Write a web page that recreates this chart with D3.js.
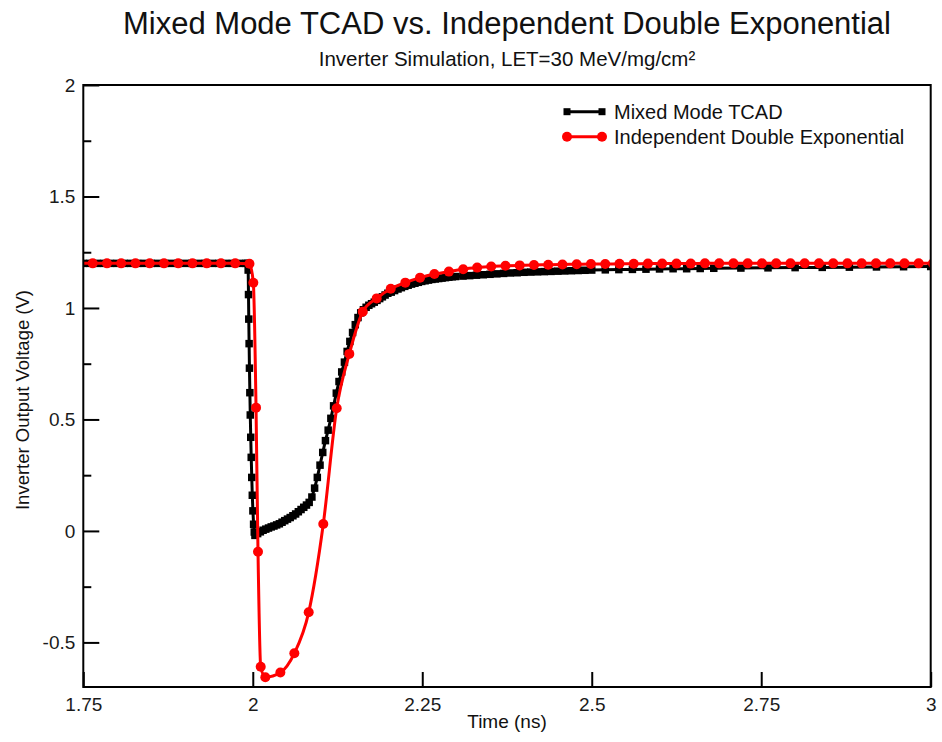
<!DOCTYPE html>
<html>
<head>
<meta charset="utf-8">
<script src="https://cdn.jsdelivr.net/npm/d3@7"></script>
<style>
  html, body { margin: 0; padding: 0; background: #fff; }
  svg { display: block; font-family: "Liberation Sans", Arial, Helvetica, sans-serif; }
</style>
</head>
<body>
<svg id="chart" width="942" height="742"></svg>
<script>
// Mixed-mode TCAD transient: [time (ns), output voltage (V)]
const tcadPoints = [
  [1.75,1.2],[1.76,1.2],[1.77,1.2],[1.78,1.2],[1.79,1.2],[1.80,1.2],[1.81,1.2],[1.82,1.2],
  [1.83,1.2],[1.84,1.2],[1.85,1.2],[1.86,1.2],[1.87,1.2],[1.88,1.2],[1.89,1.2],[1.90,1.2],
  [1.91,1.2],[1.92,1.2],[1.93,1.2],[1.94,1.2],[1.95,1.2],[1.96,1.2],[1.97,1.2],[1.98,1.2],
  [1.99,1.2],[1.992,1.2],
  [1.9932,1.17],[1.9937,1.06],[1.9941,0.95],[1.9946,0.84],[1.9951,0.73],[1.9957,0.62],
  [1.9963,0.52],[1.997,0.42],[1.9977,0.33],[1.9985,0.24],[1.9993,0.16],[2.0002,0.09],
  [2.0012,0.03],[2.0022,-0.005],[2.0032,-0.02],
  [2.0072,-0.012],[2.0112,-0.004],[2.0152,0.003],[2.0192,0.008],[2.0232,0.013],[2.0272,0.018],
  [2.0312,0.022],[2.0352,0.027],[2.0392,0.032],[2.0432,0.039],[2.0472,0.046],[2.0512,0.053],
  [2.0552,0.060],[2.0592,0.068],[2.0632,0.076],[2.0672,0.086],[2.0712,0.096],[2.0752,0.106],
  [2.0792,0.116],[2.0832,0.128],[2.0872,0.152],[2.0912,0.192],[2.0952,0.24],[2.0992,0.295],
  [2.1032,0.352],[2.1072,0.405],[2.1112,0.452],[2.1152,0.505],[2.1192,0.561],[2.1232,0.618],
  [2.1272,0.670],[2.1312,0.713],[2.1352,0.757],[2.1392,0.805],[2.1432,0.85],[2.1472,0.89],
  [2.1512,0.925],[2.1552,0.957],[2.1592,0.978],[2.1632,0.992],[2.1672,1.003],[2.1712,1.012],
  [2.1752,1.019],[2.1792,1.026],[2.1832,1.034],[2.1872,1.042],[2.1912,1.05],[2.1952,1.058],
  [2.1992,1.066],
  [2.2042,1.071],[2.2092,1.078],[2.2142,1.085],[2.2192,1.091],[2.2242,1.097],[2.2292,1.102],
  [2.2342,1.107],[2.2392,1.111],[2.2442,1.115],[2.2492,1.119],[2.2542,1.122],[2.2592,1.125],
  [2.2642,1.128],[2.2692,1.130],[2.2742,1.132],[2.2792,1.134],[2.2842,1.136],[2.2892,1.138],
  [2.2942,1.140],[2.2992,1.141],
  [2.31,1.143],[2.32,1.145],[2.33,1.147],[2.34,1.149],[2.35,1.151],[2.36,1.153],[2.37,1.155],
  [2.38,1.157],[2.39,1.158],[2.40,1.160],[2.41,1.161],[2.42,1.162],[2.43,1.163],[2.44,1.164],
  [2.45,1.165],[2.46,1.166],[2.47,1.167],[2.48,1.168],[2.49,1.169],[2.50,1.170],
  [2.52,1.171],[2.54,1.172],[2.56,1.173],[2.58,1.174],[2.60,1.175],[2.62,1.176],[2.64,1.176],
  [2.66,1.177],[2.68,1.178],
  [2.72,1.179],[2.76,1.180],[2.80,1.181],[2.84,1.182],[2.88,1.183],[2.92,1.184],[2.96,1.185],
  [3.00,1.186]
];

// Independent double-exponential current source model: [time (ns), output voltage (V)]
const dexpPoints = [
  [1.7429,1.2],[1.7639,1.2],[1.7849,1.2],[1.8059,1.2],[1.8270,1.2],[1.8480,1.2],[1.8690,1.2],
  [1.8900,1.2],[1.9110,1.2],[1.9321,1.2],[1.9531,1.2],[1.9741,1.2],[1.9951,1.198],
  [2.0008,1.113],[2.0048,0.553],[2.0077,-0.093],[2.0117,-0.609],[2.0185,-0.656],
  [2.0407,-0.635],[2.0613,-0.549],[2.0825,-0.365],[2.1040,0.031],[2.1238,0.550],
  [2.1424,0.794],[2.1622,0.983],[2.1828,1.043],[2.2035,1.086],[2.2250,1.1135],
  [2.2467,1.136],[2.2679,1.152],[2.2893,1.163],[2.3104,1.174],[2.3310,1.181],[2.3517,1.186],
  [2.3727,1.189],[2.3937,1.191],[2.4148,1.193],[2.4358,1.194],[2.4568,1.195],[2.4778,1.196],
  [2.4988,1.197],[2.5199,1.197],[2.5409,1.198],[2.5619,1.198],[2.5829,1.199],[2.6039,1.199],
  [2.6250,1.199],[2.6460,1.199],[2.6670,1.2],[2.6880,1.2],[2.7090,1.2],[2.7301,1.2],
  [2.7511,1.2],[2.7721,1.2],[2.7931,1.2],[2.8141,1.2],[2.8352,1.2],[2.8562,1.2],
  [2.8772,1.2],[2.8982,1.2],[2.9193,1.2],[2.9403,1.2],[2.9613,1.2],[2.9823,1.2],[3.0033,1.2]
];

const xMajorTicks = [1.75, 2, 2.25, 2.5, 2.75, 3];
const xTickLabels = ["1.75", "2", "2.25", "2.5", "2.75", "3"];
const yMajorTicks = [-0.5, 0, 0.5, 1, 1.5, 2];
const yTickLabels = ["-0.5", "0", "0.5", "1", "1.5", "2"];
const yMinorTicks = [-0.25, 0.25, 0.75, 1.25, 1.75];

const seriesNames = ["Mixed Mode TCAD", "Independent Double Exponential"];
const seriesColors = ["#000000", "#ff0000"];

const titleText = "Mixed Mode TCAD vs. Independent Double Exponential";
const subtitleText = "Inverter Simulation, LET=30 MeV/mg/cm\u00B2";
const xAxisTitle = "Time (ns)";
const yAxisTitle = "Inverter Output Voltage (V)";

// ---- layout ----
const svg = d3.select("#chart");
const plot = { left: 83.3, top: 85, right: 930.7, bottom: 687 };
const pw = plot.right - plot.left, ph = plot.bottom - plot.top;

const x = d3.scaleLinear().domain([1.75, 3]).range([0, pw]);
const y = d3.scaleLinear().domain([-0.7, 2]).range([ph, 0]);

const g = svg.append("g").attr("transform", `translate(${plot.left},${plot.top})`);

svg.append("defs").append("clipPath").attr("id", "plotClip")
  .append("rect").attr("x", 0).attr("y", 0).attr("width", pw).attr("height", ph);

// ---- axes (ticks point inward) ----
const fontStack = '"Liberation Sans", Arial, Helvetica, sans-serif';

const xAxis = d3.axisBottom(x).tickValues(xMajorTicks)
  .tickFormat((d, i) => xTickLabels[i]).tickSize(-15).tickPadding(11);
const xg = g.append("g").attr("transform", `translate(0,${ph})`).call(xAxis);

const yAxis = d3.axisLeft(y).tickValues(yMajorTicks)
  .tickFormat((d, i) => yTickLabels[i]).tickSize(-16).tickPadding(8);
const yg = g.append("g").call(yAxis);

const yMinor = d3.axisLeft(y).tickValues(yMinorTicks).tickFormat("").tickSize(-8);
const ymg = g.append("g").call(yMinor);

[xg, yg, ymg].forEach(a => {
  a.select(".domain").remove();
  a.selectAll(".tick line").attr("stroke", "#000").attr("stroke-width", 2);
  a.selectAll(".tick text").attr("fill", "#1a1a1a")
    .style("font-family", fontStack).style("font-size", "19px");
});

// ---- series ----
const tcadLine = d3.line().x(d => x(d[0])).y(d => y(d[1]));
const dexpLine = d3.line().x(d => x(d[0])).y(d => y(d[1])).curve(d3.curveMonotoneX);
const data = g.append("g").attr("clip-path", "url(#plotClip)");

// TCAD: black line with square markers
data.append("path").datum(tcadPoints)
  .attr("d", tcadLine).attr("fill", "none")
  .attr("stroke", seriesColors[0]).attr("stroke-width", 3).attr("stroke-linejoin", "round");
const sq = 7.5;
data.append("g").selectAll("rect").data(tcadPoints).join("rect")
  .attr("x", d => x(d[0]) - sq / 2).attr("y", d => y(d[1]) - sq / 2)
  .attr("width", sq).attr("height", sq).attr("fill", seriesColors[0]);

// Double exponential: red line with circle markers
data.append("path").datum(dexpPoints)
  .attr("d", dexpLine).attr("fill", "none")
  .attr("stroke", seriesColors[1]).attr("stroke-width", 3).attr("stroke-linejoin", "round");
data.append("g").selectAll("circle").data(dexpPoints).join("circle")
  .attr("cx", d => x(d[0])).attr("cy", d => y(d[1])).attr("r", 5)
  .attr("fill", seriesColors[1]);

// ---- frame ----
g.append("rect").attr("x", 0).attr("y", 0).attr("width", pw).attr("height", ph)
  .attr("fill", "none").attr("stroke", "#000").attr("stroke-width", 2);

// ---- titles ----
svg.append("text").attr("x", plot.left + pw / 2).attr("y", 34)
  .attr("text-anchor", "middle").attr("fill", "#111")
  .style("font-size", "31px").text(titleText);
svg.append("text").attr("x", plot.left + pw / 2).attr("y", 66)
  .attr("text-anchor", "middle").attr("fill", "#111")
  .style("font-size", "20.5px").text(subtitleText);
svg.append("text").attr("x", plot.left + pw / 2).attr("y", 728)
  .attr("text-anchor", "middle").attr("fill", "#111")
  .style("font-size", "19px").text(xAxisTitle);
svg.append("text").attr("transform", `translate(29,400) rotate(-90)`)
  .attr("text-anchor", "middle").attr("fill", "#111")
  .style("font-size", "18.5px").text(yAxisTitle);

// ---- legend ----
const legend = svg.append("g").attr("transform", "translate(567,111.7)");
const rowGap = 25;
seriesNames.forEach((name, i) => {
  const row = legend.append("g").attr("transform", `translate(0,${i * rowGap})`);
  row.append("line").attr("x1", 0).attr("x2", 35).attr("y1", 0).attr("y2", 0)
    .attr("stroke", seriesColors[i]).attr("stroke-width", 3);
  [0, 35].forEach(px => {
    if (i === 0) {
      row.append("rect").attr("x", px - 3.5).attr("y", -3.5)
        .attr("width", 7).attr("height", 7).attr("fill", seriesColors[i]);
    } else {
      row.append("circle").attr("cx", px).attr("cy", 0).attr("r", 5).attr("fill", seriesColors[i]);
    }
  });
  row.append("text").attr("x", 47).attr("y", 7).attr("fill", "#111")
    .style("font-size", "20px").text(name);
});
</script>
</body>
</html>
